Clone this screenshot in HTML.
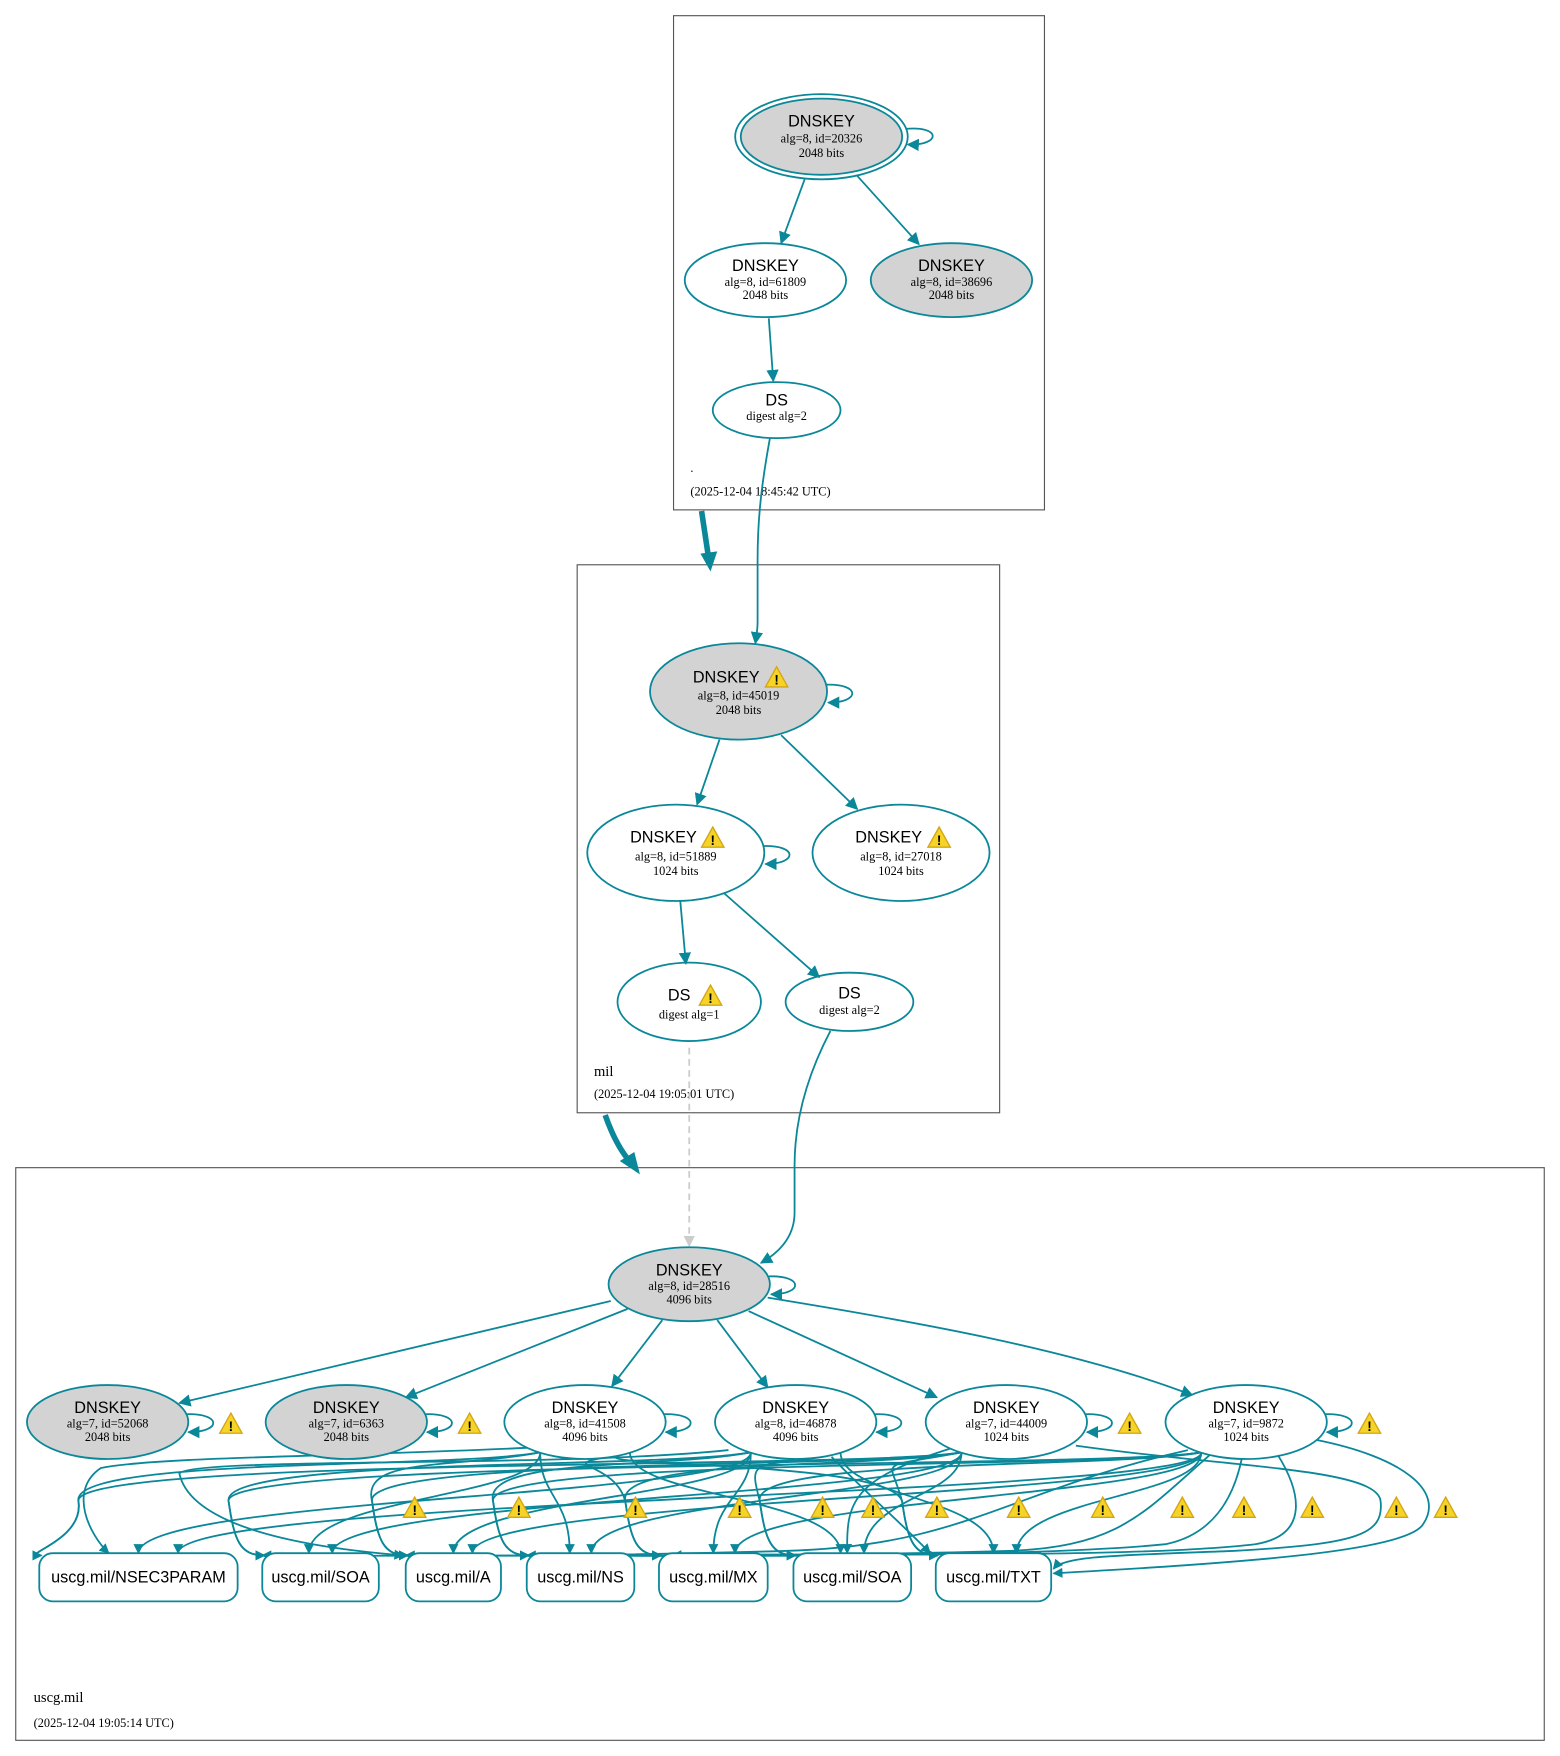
<!DOCTYPE html>
<html><head><meta charset="utf-8"><style>
html,body{margin:0;padding:0;background:#fff}
svg{display:block}
.t{font-family:"Liberation Sans",sans-serif;font-size:14.5px;text-anchor:middle;fill:#000}
.s{font-family:"Liberation Serif",serif;font-size:11px;text-anchor:middle;fill:#000}
.l{font-family:"Liberation Serif",serif;font-size:11px;fill:#000}
.e{fill:none;stroke:#0a8799;stroke-width:1.6}
.n{stroke:#0a8799;stroke-width:1.6}
</style></head><body>
<svg id="g" width="1560" height="1756" viewBox="0 0 1392 1567" xmlns="http://www.w3.org/2000/svg">
<defs>
<marker id="a" viewBox="0 0 10 10" refX="9" refY="5" markerWidth="9" markerHeight="9" orient="auto" markerUnits="userSpaceOnUse"><path d="M0,0L10,5L0,10z" fill="#0a8799"/></marker>
<marker id="a2" viewBox="0 0 10 10" refX="9" refY="5" markerWidth="11" markerHeight="11" orient="auto" markerUnits="userSpaceOnUse"><path d="M0,0L10,5L0,10z" fill="#0a8799"/></marker>
<marker id="c" viewBox="0 0 10 10" refX="9" refY="5" markerWidth="10" markerHeight="10" orient="auto" markerUnits="userSpaceOnUse"><path d="M0,0L10,5L0,10z" fill="#ccc"/></marker>
<g id="w"><polygon points="0,-10 10,8 -10,8" fill="#f5d327" stroke="#d4a514" stroke-width="1.2"/><text x="0" y="6" font-family="Liberation Sans,sans-serif" font-size="12" font-weight="bold" text-anchor="middle">!</text></g>
</defs>

<rect x="601" y="14" width="331" height="441" fill="none" stroke="#555" stroke-width="1"/>
<rect x="515" y="504" width="377" height="489" fill="none" stroke="#555" stroke-width="1"/>
<rect x="14" y="1042" width="1364" height="511" fill="none" stroke="#555" stroke-width="1"/>

<ellipse cx="733" cy="122" rx="77" ry="38" fill="none" class="n"/>
<ellipse cx="733" cy="122" rx="72" ry="34" fill="#d3d3d3" class="n"/>
<text x="733" y="113" class="t">DNSKEY</text><text x="733" y="127" class="s">alg=8, id=20326</text><text x="733" y="140" class="s">2048 bits</text>
<path class="e" d="M808,115 C840,112 840,130 810,129" marker-end="url(#a2)"/>
<ellipse cx="683" cy="250" rx="72" ry="33" fill="#fff" class="n"/>
<text x="683" y="242" class="t">DNSKEY</text><text x="683" y="255" class="s">alg=8, id=61809</text><text x="683" y="267" class="s">2048 bits</text>
<ellipse cx="849" cy="250" rx="72" ry="33" fill="#d3d3d3" class="n"/>
<text x="849" y="242" class="t">DNSKEY</text><text x="849" y="255" class="s">alg=8, id=38696</text><text x="849" y="267" class="s">2048 bits</text>
<ellipse cx="693" cy="366" rx="57" ry="25" fill="#fff" class="n"/>
<text x="693" y="362" class="t">DS</text><text x="693" y="375" class="s">digest alg=2</text>
<path class="e" d="M718,160 L697,217" marker-end="url(#a2)"/>
<path class="e" d="M765,157 L820,218" marker-end="url(#a2)"/>
<path class="e" d="M686,284 L690,340" marker-end="url(#a2)"/>
<text x="616" y="421" class="l">.</text>
<text x="616" y="442" class="l">(2025-12-04 18:45:42 UTC)</text>
<path d="M687,391 C678,440 676,470 676,500 L676,555 C676,562 675,567 674,574" class="e" marker-end="url(#a2)"/>
<path d="M626,456 L632,496" fill="none" stroke="#0a8799" stroke-width="5"/>
<path d="M625,494 L640,492 L634,510z" fill="#0a8799"/>

<ellipse cx="659" cy="617" rx="79" ry="43" fill="#d3d3d3" class="n"/>
<text x="648" y="609" class="t">DNSKEY</text><use href="#w" x="693" y="605"/><text x="659" y="624" class="s">alg=8, id=45019</text><text x="659" y="637" class="s">2048 bits</text>
<path class="e" d="M737,611 C768,610 768,627 739,627" marker-end="url(#a2)"/>
<ellipse cx="603" cy="761" rx="79" ry="43" fill="#fff" class="n"/>
<text x="592" y="752" class="t">DNSKEY</text><use href="#w" x="636" y="748"/><text x="603" y="768" class="s">alg=8, id=51889</text><text x="603" y="781" class="s">1024 bits</text>
<path class="e" d="M681,755 C712,754 712,771 683,771" marker-end="url(#a2)"/>
<ellipse cx="804" cy="761" rx="79" ry="43" fill="#fff" class="n"/>
<text x="793" y="752" class="t">DNSKEY</text><use href="#w" x="838" y="748"/><text x="804" y="781" class="s">1024 bits</text><text x="804" y="768" class="s">alg=8, id=27018</text>
<ellipse cx="615" cy="894" rx="64" ry="35" fill="#fff" class="n"/>
<text x="606" y="893" class="t">DS</text><use href="#w" x="634" y="889"/><text x="615" y="909" class="s">digest alg=1</text>
<ellipse cx="758" cy="894" rx="57" ry="26" fill="#fff" class="n"/>
<text x="758" y="891" class="t">DS</text><text x="758" y="905" class="s">digest alg=2</text>
<path class="e" d="M642,660 L622,718" marker-end="url(#a2)"/>
<path class="e" d="M697,656 L765,722" marker-end="url(#a2)"/>
<path class="e" d="M607,804 L612,860" marker-end="url(#a2)"/>
<path class="e" d="M646,797 L731,872" marker-end="url(#a2)"/>
<text x="530" y="960" class="l" style="font-size:13px">mil</text>
<text x="530" y="980" class="l">(2025-12-04 19:05:01 UTC)</text>
<path d="M615,935 L615,1112" fill="none" stroke="#ccc" stroke-width="1.6" stroke-dasharray="6,4" marker-end="url(#c)"/>
<path d="M741,920 C720,960 709,1000 709,1040 L709,1082 C709,1100 700,1115 679,1127" class="e" marker-end="url(#a2)"/>
<path d="M540,995 C546,1012 552,1024 560,1034" fill="none" stroke="#0a8799" stroke-width="5"/>
<path d="M553,1036 L566,1028 L571,1048z" fill="#0a8799"/>

<g id="tangle"></g>
<ellipse cx="615" cy="1146" rx="72" ry="33" fill="#d3d3d3" class="n"/>
<text x="615" y="1138" class="t">DNSKEY</text><text x="615" y="1151" class="s">alg=8, id=28516</text><text x="615" y="1163" class="s">4096 bits</text>
<path class="e" d="M686,1139 C717,1138 717,1155 688,1155" marker-end="url(#a2)"/>
<path class="e" d="M545,1161 L160,1252" marker-end="url(#a2)"/>
<path class="e" d="M560,1168 L362,1247" marker-end="url(#a2)"/>
<path class="e" d="M591,1178 L546,1237" marker-end="url(#a2)"/>
<path class="e" d="M640,1178 L685,1238" marker-end="url(#a2)"/>
<path class="e" d="M668,1170 L836,1247" marker-end="url(#a2)"/>
<path class="e" d="M685,1158 C820,1180 960,1205 1064,1245" marker-end="url(#a2)"/>

<g id="keys"></g>
<g id="rects"></g>
<g id="warns"></g>
<text x="30" y="1519" class="l" style="font-size:13px">uscg.mil</text>
<text x="30" y="1541" class="l">(2025-12-04 19:05:14 UTC)</text>
</svg>
<script>
var NS="http://www.w3.org/2000/svg";
function el(p,t,a,txt){var e=document.createElementNS(NS,t);for(var k in a)e.setAttribute(k,a[k]);if(txt)e.textContent=txt;document.getElementById(p).appendChild(e);return e;}
var keys=[[96,"alg=7, id=52068","2048 bits",1,1],[309,"alg=7, id=6363","2048 bits",1,1],[522,"alg=8, id=41508","4096 bits",0,0],[710,"alg=8, id=46878","4096 bits",0,0],[898,"alg=7, id=44009","1024 bits",0,1],[1112,"alg=7, id=9872","1024 bits",0,1]];
var rects=[[35,212,"uscg.mil/NSEC3PARAM"],[234,338,"uscg.mil/SOA"],[362,447,"uscg.mil/A"],[470,566,"uscg.mil/NS"],[588,685,"uscg.mil/MX"],[708,813,"uscg.mil/SOA"],[835,938,"uscg.mil/TXT"]];
for(var i=2;i<keys.length;i++){var kx=keys[i][0];
 for(var j=0;j<rects.length;j++){
  var r=rects[j];var tx=r[0]+(r[1]-r[0])*(0.2+0.1*i); var ty=1386;
  var sx=kx+(tx<kx?-40:40), sy=1296;
  var d;
  if((i+j)%2==0){var cx=Math.max(r[0]-30,70);d="M"+sx+","+sy+" C"+(sx-80)+","+(sy+15)+" "+(cx-10)+",1300 "+cx+",1340 C"+(cx+5)+",1375 "+(r[0]-20)+",1388 "+(r[0]+2)+",1388";}
  else{d="M"+sx+","+sy+" C"+sx+","+(sy+40)+" "+tx+","+(ty-50)+" "+tx+","+ty;}
  el("tangle","path",{d:d,"class":"e","marker-end":"url(#a)"});
 }}
[["M960,1290 C1100,1310 1230,1310 1232,1340 C1235,1370 1210,1378 1100,1384 C1000,1388 950,1388 940,1400"],
 ["M1175,1285 C1250,1300 1290,1330 1270,1360 C1255,1385 1100,1395 940,1404"],
 ["M1140,1298 C1160,1330 1170,1370 1120,1378 C1000,1392 700,1385 600,1388"],
 ["M1108,1302 C1100,1340 1080,1370 1040,1378 C900,1392 500,1388 470,1388"],
 ["M1080,1298 C1020,1350 1000,1380 900,1384 C700,1390 400,1388 362,1388"],
 ["M1060,1294 C900,1330 860,1380 700,1384 C500,1390 300,1388 234,1388"],
 ["M742,1300 C770,1330 800,1355 830,1386"],
 ["M850,1292 C760,1320 755,1340 756,1386"],
 ["M470,1292 C300,1300 140,1300 90,1310 C60,1330 80,1370 97,1386"],
 ["M650,1294 C500,1310 170,1300 160,1315 C170,1360 260,1380 360,1388"]
].forEach(function(p){el("tangle","path",{d:p[0],"class":"e","marker-end":"url(#a)"});});
for(var i=0;i<6;i++){var k=keys[i];
 el("keys","ellipse",{cx:k[0],cy:1269,rx:72,ry:33,fill:k[3]?"#d3d3d3":"#fff","class":"n"});
 el("keys","text",{x:k[0],y:1261,"class":"t"},"DNSKEY");
 el("keys","text",{x:k[0],y:1274,"class":"s"},k[1]);
 el("keys","text",{x:k[0],y:1286,"class":"s"},k[2]);
 var rx=k[0]+70;
 el("keys","path",{d:"M"+rx+",1262 C"+(rx+32)+",1261 "+(rx+32)+",1278 "+(rx+2)+",1278","class":"e","marker-end":"url(#a2)"});
 if(k[4]) el("keys","use",{href:"#w",x:k[0]+110,y:1271});
}
rects.forEach(function(r){
 el("rects","rect",{x:r[0],y:1386,width:r[1]-r[0],height:43,rx:12,fill:"#fff","class":"n"});
 el("rects","text",{x:(r[0]+r[1])/2,y:1412,"class":"t"},r[2]);
});
[370,463,567,660,734,779,836,909,984,1055,1110,1171,1246,1290].forEach(function(x){el("warns","use",{href:"#w",x:x,y:1346});});
</script>
</body></html>
